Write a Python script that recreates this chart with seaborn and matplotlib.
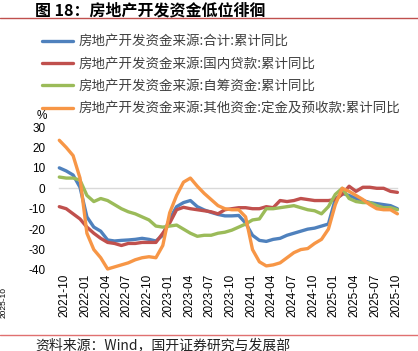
import matplotlib
matplotlib.use("Agg")
import matplotlib.pyplot as plt
import matplotlib.transforms as mtrans
import seaborn as sns
import pandas as pd
from matplotlib.lines import Line2D

sns.set_style("white")
plt.rcParams['font.family'] = ['Noto Sans CJK SC', 'DejaVu Sans']

# ---------------- data ----------------
months = pd.period_range("2021-10", "2025-11", freq="M").strftime("%Y-%m").tolist()

total = [10, 8.5, 6.5, 0.5, -14, -19, -21, -25.3, -25.8, -25.5, -25.3, -25, -24.5, -25, -25.8,
         -23, -15, -9, -7, -6, -9, -10.6, -11.8, -12.8, -13.5, -13.5, -13.3, -17, -23, -25.5,
         -26, -25, -24.5, -23, -22, -21, -20, -19.5, -18.5, -17.5, -5.3, -2.5, -3.5, -5, -6,
         -7, -7.5, -8, -8.5, -10]
domestic_loans = [-9, -10, -12.5, -15, -19, -22, -24.5, -26.5, -27, -28, -27, -27, -26.5, -26.5,
                  -26.5, -22, -17, -10.5, -9.3, -10, -10.5, -11, -11.5, -12.5, -10.5, -10, -9.5,
                  -9.5, -10, -10, -9, -9.5, -6, -6.5, -6, -5, -5.5, -6, -6, -6, -5.5, -3, 1,
                  -1.5, 0.5, 0.5, 0, 0, -1.5, -2]
self_raised = [5.5, 5, 5, 4, -3.5, -6.5, -5, -6, -8, -10, -11.5, -12.5, -14, -15.5, -18.5, -19,
               -18.5, -18, -20, -22, -23.5, -23, -23, -22, -21.5, -20.5, -19, -17.5, -15.5, -15,
               -10, -10, -9.5, -9, -8.5, -9.5, -10.5, -11, -12.5, -9, -3, 0, -5, -6.5, -7, -7,
               -8.5, -9.5, -9.5, -10.5]
deposits = [23.5, 20, 16, 5, -22, -30, -34, -39.5, -38.5, -37.5, -36.5, -35, -34, -33.5, -34,
            -28, -12, -3.5, 3, 5, 1, -2.5, -5.5, -8.5, -10, -10.5, -10.5, -14, -30, -36, -38,
            -37.5, -36.5, -34, -31.5, -30, -29.5, -27, -25, -20, -8, 0, -1.5, -3.5, -5.5, -8,
            -10, -10.5, -10.5, -12.5]

series_names = [
    "房地产开发资金来源:合计:累计同比",
    "房地产开发资金来源:国内贷款:累计同比",
    "房地产开发资金来源:自筹资金:累计同比",
    "房地产开发资金来源:其他资金:定金及预收款:累计同比",
]
series_values = [total, domestic_loans, self_raised, deposits]
colors = ["#4F81BD", "#C0504D", "#9BBB59", "#F79646"]
yticks = [30, 20, 10, 0, -10, -20, -30, -40]
xtick_labels = months[::3][:17]

rows = []
for name, vals in zip(series_names, series_values):
    for i, (m, v) in enumerate(zip(months, vals)):
        rows.append({"idx": i, "month": m, "series": name, "value": v})
df = pd.DataFrame(rows)

# ---------------- figure ----------------
W, H = 418, 351
fig = plt.figure(figsize=(W / 100, H / 100), dpi=100)
ax = fig.add_axes([59.3 / W, 1 - 270 / H, (397.4 - 59.3) / W, (270 - 127) / H])

sns.lineplot(data=df, x="idx", y="value", hue="series", hue_order=series_names,
             palette=colors, linewidth=2.4, ax=ax, legend=True, clip_on=False)

ax.set_xlim(0, len(months) - 1)
ax.set_ylim(-40, 30)
ax.set_xlabel("")
ax.set_ylabel("")

for s in ["top", "right", "left"]:
    ax.spines[s].set_visible(False)
ax.spines["bottom"].set_position(("data", 0))
ax.spines["bottom"].set_color("#D9D9D9")
ax.spines["bottom"].set_linewidth(1.0)
ax.spines["bottom"].set_zorder(0)

tick_pos = list(range(0, 49, 3))
ax.set_xticks(tick_pos)
ax.tick_params(axis="x", direction="out", length=4, width=1, color="#D9D9D9",
               labelbottom=False)
ax.set_yticks(yticks)
ax.set_yticklabels([str(v) for v in yticks], fontfamily="Liberation Sans", fontsize=8.5,
                   color="#000000")
ax.tick_params(axis="y", length=0, pad=10)

trans = mtrans.blended_transform_factory(ax.transData, ax.transAxes)
for p, lab in zip(tick_pos, xtick_labels):
    ax.text(p + 0.8, -0.025, lab, transform=trans, rotation=90, ha="center", va="top",
            fontfamily="Liberation Sans", fontsize=8.5, color="#000000")

# legend
handles, labels = ax.get_legend_handles_labels()
ax.legend(handles, labels, loc="upper left", bbox_to_anchor=(42 / W, 1 - 35 / H),
          bbox_transform=fig.transFigure, frameon=False, fontsize=9.7,
          handlelength=2.3, handletextpad=0.4, labelspacing=0.6, borderpad=0,
          borderaxespad=0, labelcolor="#404040")

fig.text(42 / W, 1 - 116 / H, "%", ha="center", va="center", fontsize=8.5,
         fontfamily="Liberation Sans", color="#000000")

# title + rules
fig.text(35 / W, 1 - 10 / H, "图 18：房地产开发资金低位徘徊", ha="left", va="center",
         fontsize=11.5, fontweight="bold", color="#000000")
fig.add_artist(Line2D([0, 1], [1 - 18 / H, 1 - 18 / H], transform=fig.transFigure,
                      color="#C0504D", linewidth=1.0))
fig.add_artist(Line2D([0, 1], [1 - 335 / H, 1 - 335 / H], transform=fig.transFigure,
                      color="#E07070", linewidth=1.0))
fig.text(35 / W, 1 - 345 / H, "资料来源：Wind，国开证券研究与发展部", ha="left", va="center",
         fontsize=10, color="#222222")
fig.text(4 / W, 1 - 302 / H, "2025-10", rotation=90, ha="center", va="center",
         fontsize=6, fontfamily="Liberation Sans", color="#000000")

fig.savefig("out.png", dpi=100)
